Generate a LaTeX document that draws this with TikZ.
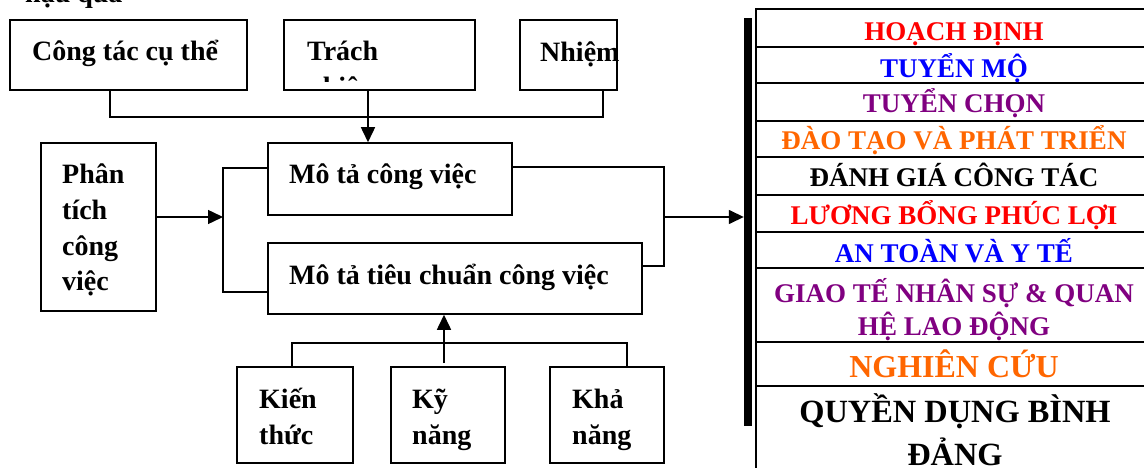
\documentclass[tikz,border=0pt]{standalone}
\usepackage{fontspec}
\setmainfont{Liberation Serif}
\usetikzlibrary{arrows.meta}
\definecolor{cred}{RGB}{255,0,0}
\definecolor{cblue}{RGB}{0,0,255}
\definecolor{cpurple}{RGB}{128,0,128}
\definecolor{corange}{RGB}{255,102,0}
\begin{document}
\begin{tikzpicture}[x=1pt,y=-1pt,
  box/.style={draw, line width=1.5pt, inner sep=0pt},
  rowbox/.style={draw, line width=1.6pt, inner sep=0pt, minimum width=396pt},
  ln/.style={line width=1.5pt},
  arr/.style={line width=1.5pt,-{Triangle[length=15pt,width=14pt]}},
  txt/.style={font=\bfseries\fontsize{28}{36}\selectfont, inner sep=0pt, anchor=base west},
  rowtxt/.style={font=\bfseries\fontsize{27}{33}\selectfont, inner sep=0pt, anchor=base},
]
\useasboundingbox (0,0) rectangle (1144,468);
\clip (0,0) rectangle (1144,468);

% top-left partial caption
\node[txt] (hq) at (25,2.5) {hậu quả};

% top boxes
\node[box, minimum width=237pt, minimum height=70pt] (ct) at (128.5,55) {};
\node[box, minimum width=191pt, minimum height=70pt] (tr) at (379.5,55) {};
\node[box, minimum width=97pt,  minimum height=70pt] (nh) at (568.5,55) {};
\node[txt] (ctt) at (32,61) {Công tác cụ thể};
\node[txt] (trt) at (307,61) {Trách};
\begin{scope}
  \clip (tr.north west) rectangle ([yshift=9pt]tr.south east);
  \node[txt] (trt2) at (307,97) {nhiệm};
\end{scope}
\node[txt] (nht) at (540,62) {Nhiệm};

% left box
\node[box, minimum width=115pt, minimum height=168pt] (pt) at (98.5,227) {};
\node[txt] (pt1) at (62,183) {Phân};
\node[txt] (pt2) at (62,219) {tích};
\node[txt] (pt3) at (62,255) {công};
\node[txt] (pt4) at (62,290) {việc};

% middle boxes
\node[box, minimum width=244pt, minimum height=72pt] (mt1) at (390,179) {};
\node[box, minimum width=374pt, minimum height=71pt] (mt2) at (455,278.5) {};
\node[txt] (mt1t) at (289,183) {Mô tả công việc};
\node[txt] (mt2t) at (289,284) {Mô tả tiêu chuẩn công việc};

% bottom boxes
\node[box, minimum width=116pt, minimum height=96pt] (kt) at (295,415) {};
\node[box, minimum width=114pt, minimum height=96pt] (ky) at (448,415) {};
\node[box, minimum width=114pt, minimum height=96pt] (kh) at (607,415) {};
\node[txt] (kt1) at (259,408) {Kiến};
\node[txt] (kt2) at (259,444) {thức};
\node[txt] (ky1) at (412,408) {Kỹ};
\node[txt] (ky2) at (412,444) {năng};
\node[txt] (kh1) at (572,408) {Khả};
\node[txt] (kh2) at (572,444) {năng};

% thick bar
\node[fill=black, inner sep=0pt, minimum width=8pt, minimum height=408pt] (bar) at (748,222) {};

% table rows
\node[rowbox, minimum height=38pt] (r1) at (954,28) {};
\node[rowbox, minimum height=36pt] (r2) at (954,65) {};
\node[rowbox, minimum height=38pt] (r3) at (954,102) {};
\node[rowbox, minimum height=36pt] (r4) at (954,139) {};
\node[rowbox, minimum height=38pt] (r5) at (954,176) {};
\node[rowbox, minimum height=37pt] (r6) at (954,213.5) {};
\node[rowbox, minimum height=36pt] (r7) at (954,250) {};
\node[rowbox, minimum height=74pt] (r8) at (954,305) {};
\node[rowbox, minimum height=44pt] (r9) at (954,364) {};
\node[rowbox, minimum height=104pt] (r10) at (954,438) {};

\node[rowtxt, text=cred] (t1) at (954,40.7) {HOẠCH ĐỊNH};
\node[rowtxt, text=cblue] (t2) at (954,78) {TUYỂN MỘ};
\node[rowtxt, text=cpurple] (t3) at (954,113) {TUYỂN CHỌN};
\node[rowtxt, text=corange] (t4) at (954,150) {ĐÀO TẠO VÀ PHÁT TRIỂN};
\node[rowtxt, text=black] (t5) at (954,187) {ĐÁNH GIÁ CÔNG TÁC};
\node[rowtxt, text=cred] (t6) at (954,224) {LƯƠNG BỔNG PHÚC LỢI};
\node[rowtxt, text=cblue] (t7) at (954,262) {AN TOÀN VÀ Y TẾ};
\node[rowtxt, text=cpurple] (t8a) at (954,302) {GIAO TẾ NHÂN SỰ \& QUAN};
\node[rowtxt, text=cpurple] (t8b) at (954,335) {HỆ LAO ĐỘNG};
\node[rowtxt, text=corange, font=\bfseries\fontsize{32}{38}\selectfont] (t9) at (954,377) {NGHIÊN CỨU};
\node[rowtxt, text=black, font=\bfseries\fontsize{32.4}{43}\selectfont] (t10a) at (955,422) {QUYỀN DỤNG BÌNH};
\node[rowtxt, text=black, font=\bfseries\fontsize{32.4}{43}\selectfont] (t10b) at (955,465) {ĐẢNG};

% junction coordinates
\coordinate (j1) at (110,117);
\coordinate (j2) at (603,117);
\coordinate (tx) at (368,117);
\coordinate (jl) at (223,217);
\coordinate (jl1) at (223,168);
\coordinate (jl2) at (223,292);
\coordinate (jr) at (664,217);
\coordinate (jr1) at (664,167);
\coordinate (jr2) at (664,266);
\coordinate (jb1) at (292,343);
\coordinate (jb2) at (627,343);
\coordinate (kyx) at (444,363);

% connectors
\draw[ln] (j1 |- ct.south) -- (j1) -- (j2) -- (j2 |- nh.south);
\draw[arr] (tx |- tr.south) -- (tx |- mt1.north);
\draw[arr] (jl -| pt.east) -- (jl);
\draw[ln] (jl1 -| mt1.west) -- (jl1) -- (jl2) -- (jl2 -| mt2.west);
\draw[ln] (jr1 -| mt1.east) -- (jr1) -- (jr2) -- (jr2 -| mt2.east);
\draw[arr] (jr) -- (jr -| bar.west);
\draw[ln] (jb1 |- kt.north) -- (jb1) -- (jb2) -- (jb2 |- kh.north);
\draw[arr] (kyx) -- (kyx |- mt2.south);
\end{tikzpicture}
\end{document}
